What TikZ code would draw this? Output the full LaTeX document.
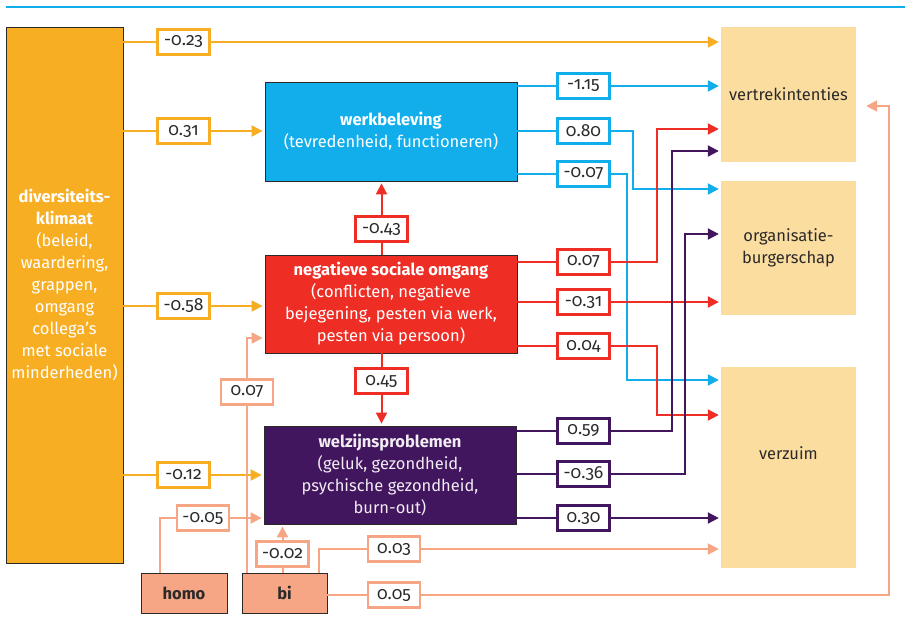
\documentclass[tikz,border=0pt]{standalone}
\usepackage{fontspec}
\setmainfont[Numbers=OldStyle]{Fira Sans}
\usetikzlibrary{arrows.meta}

\definecolor{oranje}{HTML}{F8AE22}
\definecolor{cyaan}{HTML}{12AEEB}
\definecolor{rood}{HTML}{EE2D25}
\definecolor{paars}{HTML}{42155F}
\definecolor{zalm}{HTML}{F6A585}
\definecolor{geel}{HTML}{FBDDA0}
\definecolor{inkt}{HTML}{2B2A29}

\begin{document}
\begin{tikzpicture}[x=1pt,y=-1pt,line cap=butt]
	\tikzstyle{box}=[draw=inkt,line width=0.8pt,align=center,inner sep=0pt,font=\fontsize{16.5}{22}\selectfont];
	\tikzstyle{doel}=[fill=geel,align=center,minimum width=135pt,inner sep=0pt,text=inkt,font=\fontsize{16.5}{22}\selectfont];
	\tikzstyle{coef}=[fill=white,line width=2.4pt,minimum width=52pt,minimum height=25pt,inner sep=0pt,text=inkt,font=\fontsize{17.5}{18}\selectfont];
	\tikzstyle{pijl}=[line width=2pt,-{Triangle[length=11pt,width=11pt]},shorten >=2pt];
	\tikzstyle{lijn}=[line width=2pt];

	\useasboundingbox (0,0) rectangle (905,632);
	\draw[cyaan,line width=1.2pt] (6,7) -- (905,7);

	% blokken
	\node[box,fill=oranje,text=white,minimum width=117pt,minimum height=536pt,text depth=22pt] (div) at (64.5,295)
		{\textbf{diversiteits-}\\\textbf{klimaat}\\(beleid,\\waardering,\\grappen,\\omgang\\collega’s\\met sociale\\minderheden)};
	\node[box,fill=cyaan,text=white,minimum width=252pt,minimum height=99pt] (werk) at (391,131.5)
		{\textbf{werkbeleving}\\(tevredenheid, functioneren)};
	\node[box,fill=rood,text=white,minimum width=252pt,minimum height=98pt] (neg) at (391,304)
		{\textbf{negatieve sociale omgang}\\(conflicten, negatieve\\bejegening, pesten via werk,\\pesten via persoon)};
	\node[box,fill=paars,text=white!92!paars,minimum width=252pt,minimum height=98pt] (welz) at (390,475)
		{\textbf{welzijnsproblemen}\\(geluk, gezondheid,\\psychische gezondheid,\\burn-out)};
	\node[box,fill=zalm,text=inkt,minimum width=86pt,minimum height=40pt] (homo) at (184,593) {\textbf{homo}};
	\node[box,fill=zalm,text=inkt,minimum width=85pt,minimum height=40pt] (bi) at (284.5,593) {\textbf{bi}};

	\node[doel,minimum height=135pt] (vertrek) at (788.5,94.5) {vertrekintenties};
	\node[doel,minimum height=134pt] (org) at (788.5,248) {organisatie-\\burgerschap};
	\node[doel,minimum height=201pt,text depth=28pt] (verz) at (788.5,467.5) {verzuim};

	% diversiteitsklimaat
	\node[coef,draw=oranje] (o23) at (183.5,42)  {-0.23};
	\node[coef,draw=oranje] (o31) at (183.5,131) {0.31};
	\node[coef,draw=oranje] (o58) at (183.5,306) {-0.58};
	\node[coef,draw=oranje] (o12) at (183.5,475) {-0.12};
	\begin{scope}[oranje]
	\draw[lijn] (div.east |- o23) -- (o23.west);
	\draw[pijl] (o23.east) -- (vertrek.west |- o23);
	\draw[lijn] (div.east |- o31) -- (o31.west);
	\draw[pijl] (o31.east) -- (werk.west |- o31);
	\draw[lijn] (div.east |- o58) -- (o58.west);
	\draw[pijl] (o58.east) -- (neg.west |- o58);
	\draw[lijn] (div.east |- o12) -- (o12.west);
	\draw[pijl] (o12.east) -- (welz.west |- o12);
	\end{scope}

	% werkbeleving
	\node[coef,draw=cyaan] (c115) at (583.5,86)  {-1.15};
	\node[coef,draw=cyaan] (c80)  at (583.5,131) {0.80};
	\node[coef,draw=cyaan] (c07)  at (583.5,174) {-0.07};
	\begin{scope}[cyaan]
	\draw[lijn] (werk.east |- c115) -- (c115.west);
	\draw[pijl] (c115.east) -- (vertrek.west |- c115);
	\draw[lijn] (werk.east |- c80) -- (c80.west);
	\draw[pijl] (c80.east) -| (633,189) -- (org.west |- 0,189);
	\draw[lijn] (werk.east |- c07) -- (c07.west);
	\draw[pijl] (c07.east) -| (627,380) -- (verz.west |- 0,380);
	\end{scope}

	% negatieve sociale omgang
	\node[coef,draw=rood] (r43) at (381.5,229) {-0.43};
	\node[coef,draw=rood] (r45) at (381.5,381) {0.45};
	\node[coef,draw=rood] (r07) at (583.5,262) {0.07};
	\node[coef,draw=rood] (r31) at (583.5,302) {-0.31};
	\node[coef,draw=rood] (r04) at (583.5,346) {0.04};
	\begin{scope}[rood]
	\draw[lijn] (r43 |- neg.north) -- (r43.south);
	\draw[pijl] (r43.north) -- (r43 |- werk.south);
	\draw[lijn] (r45 |- neg.south) -- (r45.north);
	\draw[pijl] (r45.south) -- (r45 |- welz.north);
	\draw[lijn] (neg.east |- r07) -- (r07.west);
	\draw[pijl] (r07.east) -| (657,129) -- (vertrek.west |- 0,129);
	\draw[lijn] (neg.east |- r31) -- (r31.west);
	\draw[pijl] (r31.east) -- (org.west |- r31);
	\draw[lijn] (neg.east |- r04) -- (r04.west);
	\draw[pijl] (r04.east) -| (657,415) -- (verz.west |- 0,415);
	\end{scope}

	% welzijnsproblemen
	\node[coef,draw=paars] (p59) at (583.5,431) {0.59};
	\node[coef,draw=paars] (p36) at (583.5,474) {-0.36};
	\node[coef,draw=paars] (p30) at (583.5,518) {0.30};
	\begin{scope}[paars]
	\draw[lijn] (welz.east |- p59) -- (p59.west);
	\draw[pijl] (p59.east) -| (672,151) -- (vertrek.west |- 0,151);
	\draw[lijn] (welz.east |- p36) -- (p36.west);
	\draw[pijl] (p36.east) -| (685,234) -- (org.west |- 0,234);
	\draw[lijn] (welz.east |- p30) -- (p30.west);
	\draw[pijl] (p30.east) -- (verz.west |- p30);
	\end{scope}

	% homo en bi
	\node[coef,draw=zalm] (h05) at (203,518) {-0.05};
	\node[coef,draw=zalm] (b07) at (247,392) {0.07};
	\node[coef,draw=zalm] (b02) at (282.5,554) {-0.02};
	\node[coef,draw=zalm] (b03) at (394,549) {0.03};
	\node[coef,draw=zalm] (b05) at (394,595) {0.05};
	\begin{scope}[zalm]
	\draw[lijn] (160,573) |- (h05.west);
	\draw[pijl] (h05.east) -- (welz.west |- h05);
	\draw[lijn] (b07 |- bi.north) -- (b07.south);
	\draw[pijl] (b07.north) |- (neg.west |- 0,338);
	\draw[lijn] (b02 |- bi.north) -- (b02.south);
	\draw[pijl] (b02.north) -- (b02 |- welz.south);
	\draw[lijn] (319,573) |- (b03.west);
	\draw[pijl] (b03.east) -- (verz.west |- b03);
	\draw[lijn] (bi.east |- b05) -- (b05.west);
	\draw[pijl,shorten >=10pt] (b05.east) -| (889,106) -- (vertrek.east |- 0,106);
	\end{scope}
\end{tikzpicture}
\end{document}
